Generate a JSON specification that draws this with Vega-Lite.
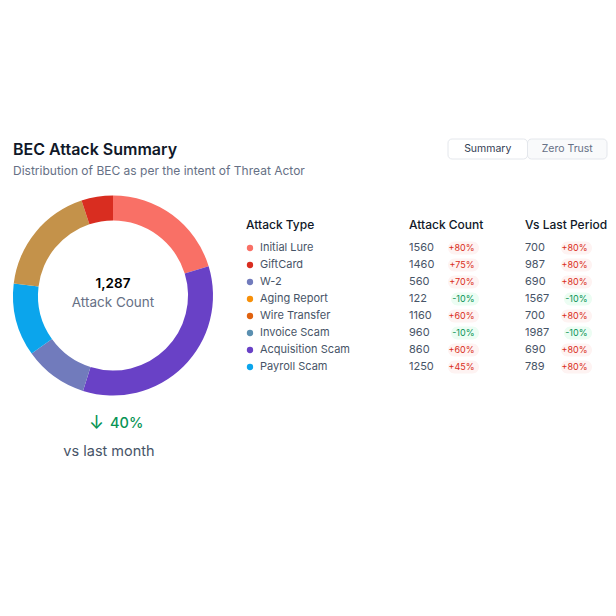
{
  "$schema": "https://vega.github.io/schema/vega-lite/v6.json",
  "background": "white",
  "padding": {"left": 13, "top": 138, "right": 0, "bottom": 0},
  "config": {
    "view": {"stroke": null},
    "font": "Inter",
    "text": {"font": "Inter"}
  },
  "datasets": {
    "rows": [
      {"type": "Initial Lure", "count": 1560, "countChange": "+80%", "last": 700, "lastChange": "+80%"},
      {"type": "GiftCard", "count": 1460, "countChange": "+75%", "last": 987, "lastChange": "+80%"},
      {"type": "W-2", "count": 560, "countChange": "+70%", "last": 690, "lastChange": "+80%"},
      {"type": "Aging Report", "count": 122, "countChange": "-10%", "last": 1567, "lastChange": "-10%"},
      {"type": "Wire Transfer", "count": 1160, "countChange": "+60%", "last": 700, "lastChange": "+80%"},
      {"type": "Invoice Scam", "count": 960, "countChange": "-10%", "last": 1987, "lastChange": "-10%"},
      {"type": "Acquisition Scam", "count": 860, "countChange": "+60%", "last": 690, "lastChange": "+80%"},
      {"type": "Payroll Scam", "count": 1250, "countChange": "+45%", "last": 789, "lastChange": "+80%"}
    ],
    "donut": [
      {"segment": "Initial Lure", "share": 20.3, "rank": 1},
      {"segment": "Acquisition Scam", "share": 34.6, "rank": 2},
      {"segment": "W-2", "share": 10.3, "rank": 3},
      {"segment": "Payroll Scam", "share": 11.8, "rank": 4},
      {"segment": "Other", "share": 18.0, "rank": 5},
      {"segment": "GiftCard", "share": 5.1, "rank": 6}
    ]
  },
  "spacing": 16.5,
  "vconcat": [
    {
      "spacing": 0,
      "hconcat": [
        {
          "width": 434,
          "height": 40,
          "layer": [
            {
              "data": {"values": [{"label": "BEC Attack Summary"}]},
              "mark": {"type": "text", "align": "left", "baseline": "middle", "fontSize": 16, "fontWeight": 600, "color": "#101828"},
              "encoding": {
                "x": {"datum": 0, "type": "quantitative", "scale": {"domain": [0, 434]}, "axis": null},
                "y": {"datum": 10.5, "type": "quantitative", "scale": {"domain": [0, 40], "reverse": true}, "axis": null},
                "text": {"field": "label"}
              }
            },
            {
              "data": {"values": [{"label": "Distribution of BEC as per the intent of Threat Actor"}]},
              "mark": {"type": "text", "align": "left", "baseline": "middle", "fontSize": 12, "color": "#667085"},
              "encoding": {
                "x": {"datum": 0, "type": "quantitative", "scale": {"domain": [0, 434]}, "axis": null},
                "y": {"datum": 31.5, "type": "quantitative", "scale": {"domain": [0, 40], "reverse": true}, "axis": null},
                "text": {"field": "label"}
              }
            }
          ]
        },
        {
          "width": 159,
          "height": 20,
          "data": {"values": [{"tab": "Summary", "active": true}, {"tab": "Zero Trust", "active": false}]},
          "encoding": {
            "x": {"field": "tab", "type": "nominal", "axis": null, "sort": null, "scale": {"paddingInner": 0, "paddingOuter": 0}}
          },
          "layer": [
            {
              "mark": {"type": "rect", "stroke": "#E4E7EC", "strokeWidth": 1, "cornerRadius": 4},
              "encoding": {
                "color": {"condition": {"test": "datum.active", "value": "#FFFFFF"}, "value": "#F9FAFB"}
              }
            },
            {
              "mark": {"type": "text", "baseline": "middle", "fontSize": 10.5},
              "encoding": {
                "text": {"field": "tab"},
                "color": {"condition": {"test": "datum.active", "value": "#344054"}, "value": "#667085"}
              }
            }
          ]
        }
      ]
    },
    {
      "spacing": 33,
      "hconcat": [
        {
          "spacing": 0,
          "vconcat": [
            {
              "width": 200,
              "height": 200,
              "layer": [
                {
                  "data": {"name": "donut"},
                  "mark": {"type": "arc", "innerRadius": 75, "outerRadius": 100},
                  "encoding": {
                    "theta": {"field": "share", "type": "quantitative", "stack": true},
                    "order": {"field": "rank", "type": "quantitative"},
                    "color": {
                      "field": "segment", "type": "nominal", "legend": null,
                      "scale": {
                        "domain": ["Initial Lure", "GiftCard", "W-2", "Aging Report", "Wire Transfer", "Invoice Scam", "Acquisition Scam", "Payroll Scam", "Other"],
                        "range": ["#F97066", "#D92D20", "#717BBC", "#F79009", "#E0620F", "#5A8FB0", "#6941C6", "#0BA5EC", "#C4924A"]
                      }
                    }
                  }
                },
                {
                  "data": {"values": [{"total": 1287}]},
                  "mark": {"type": "text", "baseline": "middle", "dy": -11.5, "fontSize": 13.5, "fontWeight": 600, "color": "#000000"},
                  "encoding": {"text": {"field": "total", "type": "quantitative", "format": ",d"}}
                },
                {
                  "data": {"values": [{"label": "Attack Count"}]},
                  "mark": {"type": "text", "baseline": "middle", "dy": 7.5, "fontSize": 13.5, "color": "#667085"},
                  "encoding": {"text": {"field": "label"}}
                }
              ]
            },
            {
              "width": 200,
              "height": 80,
              "data": {"values": [{"arrow": "↓", "change": "40%", "period": "vs last month"}]},
              "layer": [
                {
                  "mark": {"type": "text", "baseline": "middle", "dx": -16.5, "dy": -11.5, "fontSize": 18, "color": "#079455"},
                  "encoding": {"text": {"field": "arrow"}}
                },
                {
                  "mark": {"type": "text", "align": "left", "baseline": "middle", "dx": -3, "dy": -11.5, "fontSize": 14.5, "fontWeight": 500, "color": "#079455"},
                  "encoding": {"text": {"field": "change"}}
                },
                {
                  "mark": {"type": "text", "baseline": "middle", "dx": -4, "dy": 16.5, "fontSize": 14.5, "color": "#475467"},
                  "encoding": {"text": {"field": "period"}}
                }
              ]
            }
          ]
        },
        {
          "width": 360,
          "height": 180,
          "data": {"name": "rows"},
          "encoding": {
            "y": {
              "field": "type", "type": "nominal", "axis": null, "sort": null,
              "scale": {
                "domain": ["header", "Initial Lure", "GiftCard", "W-2", "Aging Report", "Wire Transfer", "Invoice Scam", "Acquisition Scam", "Payroll Scam"],
                "range": [27, 180], "paddingInner": 0, "paddingOuter": 0
              }
            }
          },
          "layer": [
            {
              "data": {"values": [{"type": "header", "label": "Attack Type"}]},
              "mark": {"type": "text", "align": "left", "baseline": "middle", "dy": -6.5, "fontSize": 12, "fontWeight": 500, "color": "#101828"},
              "encoding": {
                "x": {"datum": 0, "type": "quantitative", "scale": {"domain": [0, 360]}, "axis": null},
                "text": {"field": "label"}
              }
            },
            {
              "data": {"values": [{"type": "header", "label": "Attack Count"}]},
              "mark": {"type": "text", "align": "left", "baseline": "middle", "dy": -6.5, "fontSize": 12, "fontWeight": 500, "color": "#101828"},
              "encoding": {
                "x": {"datum": 163, "type": "quantitative", "scale": {"domain": [0, 360]}, "axis": null},
                "text": {"field": "label"}
              }
            },
            {
              "data": {"values": [{"type": "header", "label": "Vs Last Period"}]},
              "mark": {"type": "text", "align": "left", "baseline": "middle", "dy": -6.5, "fontSize": 12, "fontWeight": 500, "color": "#101828"},
              "encoding": {
                "x": {"datum": 279, "type": "quantitative", "scale": {"domain": [0, 360]}, "axis": null},
                "text": {"field": "label"}
              }
            },
            {
              "mark": {"type": "point", "filled": true, "opacity": 1, "size": 40},
              "encoding": {
                "x": {"datum": 4, "type": "quantitative", "scale": {"domain": [0, 360]}, "axis": null},
                "color": {
                  "field": "type", "type": "nominal", "legend": null,
                  "scale": {
                    "domain": ["Initial Lure", "GiftCard", "W-2", "Aging Report", "Wire Transfer", "Invoice Scam", "Acquisition Scam", "Payroll Scam", "Other"],
                    "range": ["#F97066", "#D92D20", "#717BBC", "#F79009", "#E0620F", "#5A8FB0", "#6941C6", "#0BA5EC", "#C4924A"]
                  }
                }
              }
            },
            {
              "mark": {"type": "text", "align": "left", "baseline": "middle", "fontSize": 11, "color": "#475467"},
              "encoding": {
                "x": {"datum": 14, "type": "quantitative", "scale": {"domain": [0, 360]}, "axis": null},
                "text": {"field": "type"}
              }
            },
            {
              "mark": {"type": "text", "align": "left", "baseline": "middle", "fontSize": 11, "color": "#475467"},
              "encoding": {
                "x": {"datum": 163, "type": "quantitative", "scale": {"domain": [0, 360]}, "axis": null},
                "text": {"field": "count", "type": "quantitative", "format": "d"}
              }
            },
            {
              "mark": {"type": "text", "align": "left", "baseline": "middle", "fontSize": 11, "color": "#475467"},
              "encoding": {
                "x": {"datum": 279, "type": "quantitative", "scale": {"domain": [0, 360]}, "axis": null},
                "text": {"field": "last", "type": "quantitative", "format": "d"}
              }
            },
            {
              "transform": [{"filter": "indexof(datum.countChange, '+') === 0"}],
              "mark": {"type": "bar", "height": 13, "cornerRadius": 6.5, "color": "#FEF3F2"},
              "encoding": {
                "x": {"datum": 202, "type": "quantitative", "scale": {"domain": [0, 360]}, "axis": null},
                "x2": {"datum": 233}
              }
            },
            {
              "transform": [{"filter": "indexof(datum.countChange, '-') === 0"}],
              "mark": {"type": "bar", "height": 13, "cornerRadius": 6.5, "color": "#ECFDF3"},
              "encoding": {
                "x": {"datum": 205, "type": "quantitative", "scale": {"domain": [0, 360]}, "axis": null},
                "x2": {"datum": 233}
              }
            },
            {
              "transform": [{"filter": "indexof(datum.lastChange, '+') === 0"}],
              "mark": {"type": "bar", "height": 13, "cornerRadius": 6.5, "color": "#FEF3F2"},
              "encoding": {
                "x": {"datum": 315, "type": "quantitative", "scale": {"domain": [0, 360]}, "axis": null},
                "x2": {"datum": 346}
              }
            },
            {
              "transform": [{"filter": "indexof(datum.lastChange, '-') === 0"}],
              "mark": {"type": "bar", "height": 13, "cornerRadius": 6.5, "color": "#ECFDF3"},
              "encoding": {
                "x": {"datum": 318, "type": "quantitative", "scale": {"domain": [0, 360]}, "axis": null},
                "x2": {"datum": 346}
              }
            },
            {
              "mark": {"type": "text", "align": "right", "baseline": "middle", "fontSize": 9},
              "encoding": {
                "x": {"datum": 228.5, "type": "quantitative", "scale": {"domain": [0, 360]}, "axis": null},
                "text": {"field": "countChange"},
                "color": {"condition": {"test": "indexof(datum.countChange, '-') === 0", "value": "#079455"}, "value": "#D92D20"}
              }
            },
            {
              "mark": {"type": "text", "align": "right", "baseline": "middle", "fontSize": 9},
              "encoding": {
                "x": {"datum": 341.5, "type": "quantitative", "scale": {"domain": [0, 360]}, "axis": null},
                "text": {"field": "lastChange"},
                "color": {"condition": {"test": "indexof(datum.lastChange, '-') === 0", "value": "#079455"}, "value": "#D92D20"}
              }
            }
          ]
        }
      ]
    }
  ]
}
